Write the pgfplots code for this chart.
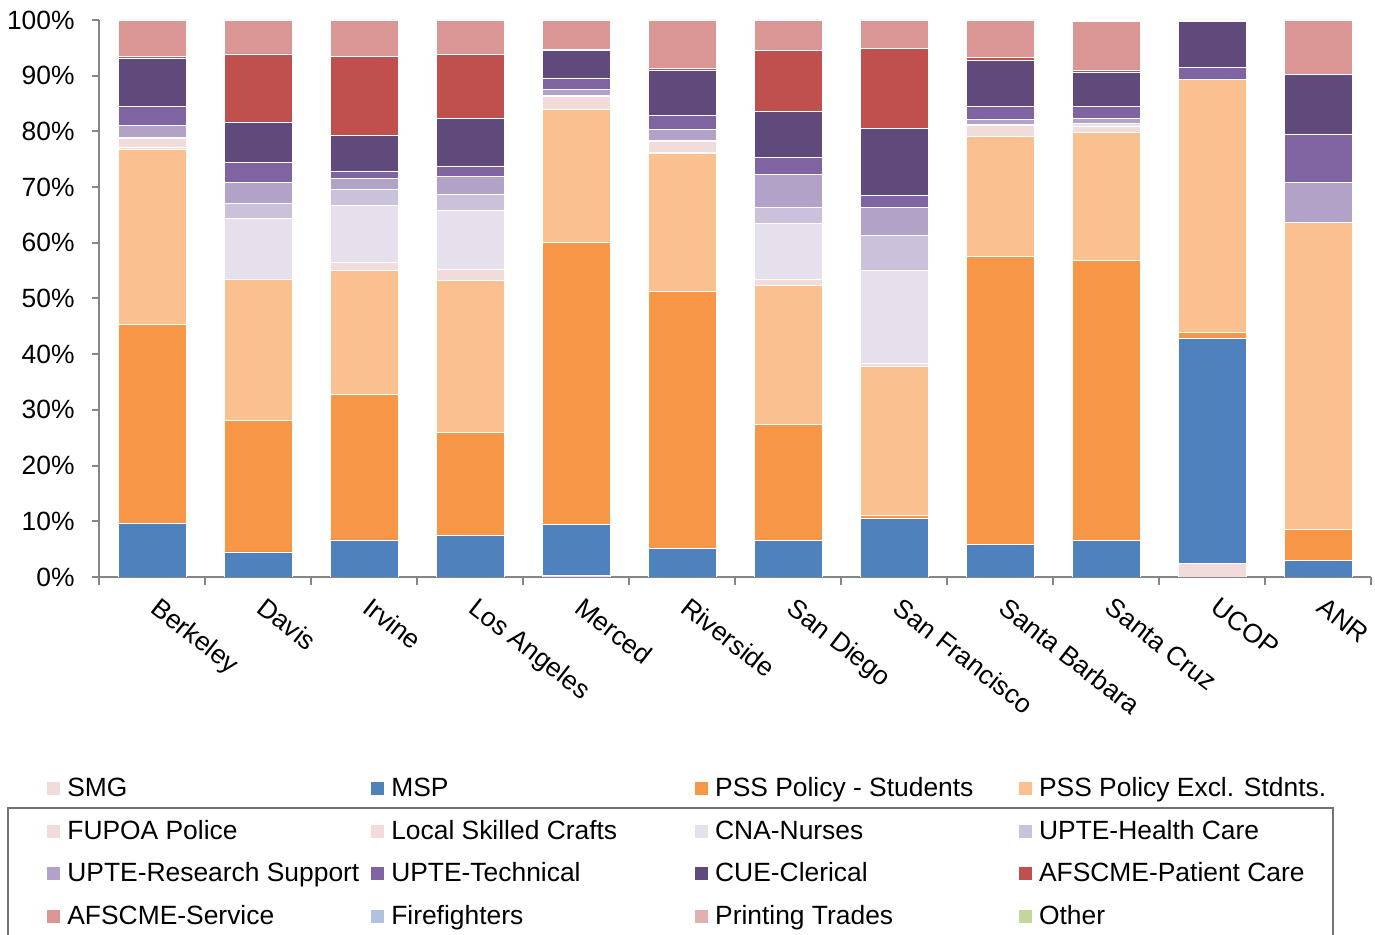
\documentclass[border=0pt]{standalone}
\usepackage{pgfplots}
\pgfplotsset{compat=1.18}
\usepackage{pgfplotstable}
\usepackage{fontspec}
\setmainfont{Liberation Sans}

\definecolor{cSMG}{HTML}{F2DCDB}
\definecolor{cMSP}{HTML}{4F81BD}
\definecolor{cPSSS}{HTML}{F79646}
\definecolor{cPSSE}{HTML}{FAC090}
\definecolor{cFUPOA}{HTML}{F2DCDB}
\definecolor{cLSC}{HTML}{F2DCDB}
\definecolor{cCNA}{HTML}{E6E0EC}
\definecolor{cUHC}{HTML}{CCC1DA}
\definecolor{cURS}{HTML}{B3A2C7}
\definecolor{cUT}{HTML}{8064A2}
\definecolor{cCUE}{HTML}{604A7B}
\definecolor{cAPC}{HTML}{C0504D}
\definecolor{cAS}{HTML}{D99694}
\definecolor{cFF}{HTML}{B0C2DE}
\definecolor{cPT}{HTML}{E0B0AF}
\definecolor{cOT}{HTML}{C3D69B}
\definecolor{axgray}{HTML}{868686}

% share of employees by group, % of campus total
\pgfplotstableread{
x  SMG MSP   PSSS  PSSE FUPOA LSC CNA  UHC URS UT  CUE  APC  AS  FF PT OT
0  0   9.65  35.75 31.3 0.4   1.6 0.2  0   2.2 3.4 8.6  0.4  6.5 0  0  0
1  0   4.5   23.6  25.4 0     0   10.8 2.7 3.9 3.6 7.2  12.2 6.1 0  0  0
2  0   6.65  26.15 22.3 0     1.3 10.3 2.9 1.9 1.4 6.3  14.3 6.5 0  0  0
3  0   7.5   18.4  27.3 0     2.0 10.7 2.7 3.3 1.8 8.6  11.5 6.2 0  0  0
4  0.2 9.3   50.6  23.9 0     2.3 0    0.2 1.0 2.0 5.0  0.2  5.3 0  0  0
5  0   5.2   46.0  24.8 0.3   1.9 0.2  0   1.9 2.5 8.2  0.3  8.7 0  0  0
6  0   6.5   20.9  25.0 0     1.0 10.1 2.8 6.0 3.0 8.2  11.0 5.5 0  0  0
7  0   10.5  0.5   26.8 0     0.5 16.7 6.3 5.0 2.2 12.1 14.3 5.1 0  0  0
8  0   5.8   51.8  21.5 0     1.9 0    0.2 1.0 2.3 8.2  0.6  6.7 0  0  0
9  0   6.5   50.3  23.0 0     1.1 0.6  0   0.9 2.1 6.1  0.3  8.9 0  0  0
10 2.5 40.4  1.0   45.4 0     0   0    0   0   2.2 8.2  0    0.3 0  0  0
11 0   2.9   5.7   55.1 0     0   0    0   7.1 8.6 10.9 0    9.7 0  0  0
}\unions

\newcommand{\lgent}[1]{\makebox[151.75pt][l]{#1}}

\begin{document}
\begin{tikzpicture}[font=\fontsize{13.2}{15.8}\selectfont]
\useasboundingbox (-49.5pt,-179pt) rectangle (638pt,288.5pt);
\begin{axis}[
  at={(0pt,0pt)}, anchor=south west,
  scale only axis, width=636pt, height=278.5pt,
  ybar stacked, bar width=0.64,
  xmin=-0.5, xmax=11.5, ymin=0, ymax=100,
  axis lines=left,
  axis line style={-, draw=axgray, line width=1pt},
  tick style={draw=axgray, line width=1pt},
  tick align=outside,
  xtick={0,...,11},
  xticklabels={Berkeley,Davis,Irvine,Los Angeles,Merced,Riverside,San Diego,San Francisco,Santa Barbara,Santa Cruz,UCOP,ANR},
  major x tick style={draw=none},
  minor xtick={-0.5,0.5,...,11.5},
  minor tick length=4pt,
  major tick length=3.7pt,
  xticklabel style={rotate=-38, anchor=north west, inner sep=0pt, xshift=7pt, yshift=-1.6pt},
  ytick={0,10,...,100},
  yticklabels={0\%,10\%,20\%,30\%,40\%,50\%,60\%,70\%,80\%,90\%,100\%},
  yticklabel style={xshift=-5pt},
  every axis plot/.append style={draw=white, line width=0.4pt},
  legend columns=4,
  legend style={at={(axis description cs:-0.0409,-0.3593)}, anchor=north west,
    draw=none, fill=none, inner sep=0pt, outer sep=0pt,
    row sep=8.9pt, column sep=0pt,
    nodes={inner sep=0pt, text height=9.6pt, text depth=2.9pt}},
  legend image code/.code={\fill[#1,draw=none] (0pt,-2.6pt) rectangle (6.5pt,3.9pt); \path (10pt,0pt);},
]
\addplot[fill=cSMG]   table[x=x,y=SMG]   {\unions}; \addlegendentry{\lgent{SMG}}
\addplot[fill=cMSP]   table[x=x,y=MSP]   {\unions}; \addlegendentry{\lgent{MSP}}
\addplot[fill=cPSSS]  table[x=x,y=PSSS]  {\unions}; \addlegendentry{\lgent{PSS Policy - Students}}
\addplot[fill=cPSSE]  table[x=x,y=PSSE]  {\unions}; \addlegendentry{\lgent{PSS Policy Excl. Stdnts.}}
\addplot[fill=cFUPOA] table[x=x,y=FUPOA] {\unions}; \addlegendentry{\lgent{FUPOA Police}}
\addplot[fill=cLSC]   table[x=x,y=LSC]   {\unions}; \addlegendentry{\lgent{Local Skilled Crafts}}
\addplot[fill=cCNA]   table[x=x,y=CNA]   {\unions}; \addlegendentry{\lgent{CNA-Nurses}}
\addplot[fill=cUHC]   table[x=x,y=UHC]   {\unions}; \addlegendentry{\lgent{UPTE-Health Care}}
\addplot[fill=cURS]   table[x=x,y=URS]   {\unions}; \addlegendentry{\lgent{UPTE-Research Support}}
\addplot[fill=cUT]    table[x=x,y=UT]    {\unions}; \addlegendentry{\lgent{UPTE-Technical}}
\addplot[fill=cCUE]   table[x=x,y=CUE]   {\unions}; \addlegendentry{\lgent{CUE-Clerical}}
\addplot[fill=cAPC]   table[x=x,y=APC]   {\unions}; \addlegendentry{\lgent{AFSCME-Patient Care}}
\addplot[fill=cAS]    table[x=x,y=AS]    {\unions}; \addlegendentry{\lgent{AFSCME-Service}}
\addplot[fill=cFF]    table[x=x,y=FF]    {\unions}; \addlegendentry{\lgent{Firefighters}}
\addplot[fill=cPT]    table[x=x,y=PT]    {\unions}; \addlegendentry{\lgent{Printing Trades}}
\addplot[fill=cOT]    table[x=x,y=OT]    {\unions}; \addlegendentry{\lgent{Other}}
\end{axis}
\draw[draw=black!55, line width=0.7pt] (-45.5pt,-115.5pt) rectangle (617pt,-200pt);
\end{tikzpicture}
\end{document}
